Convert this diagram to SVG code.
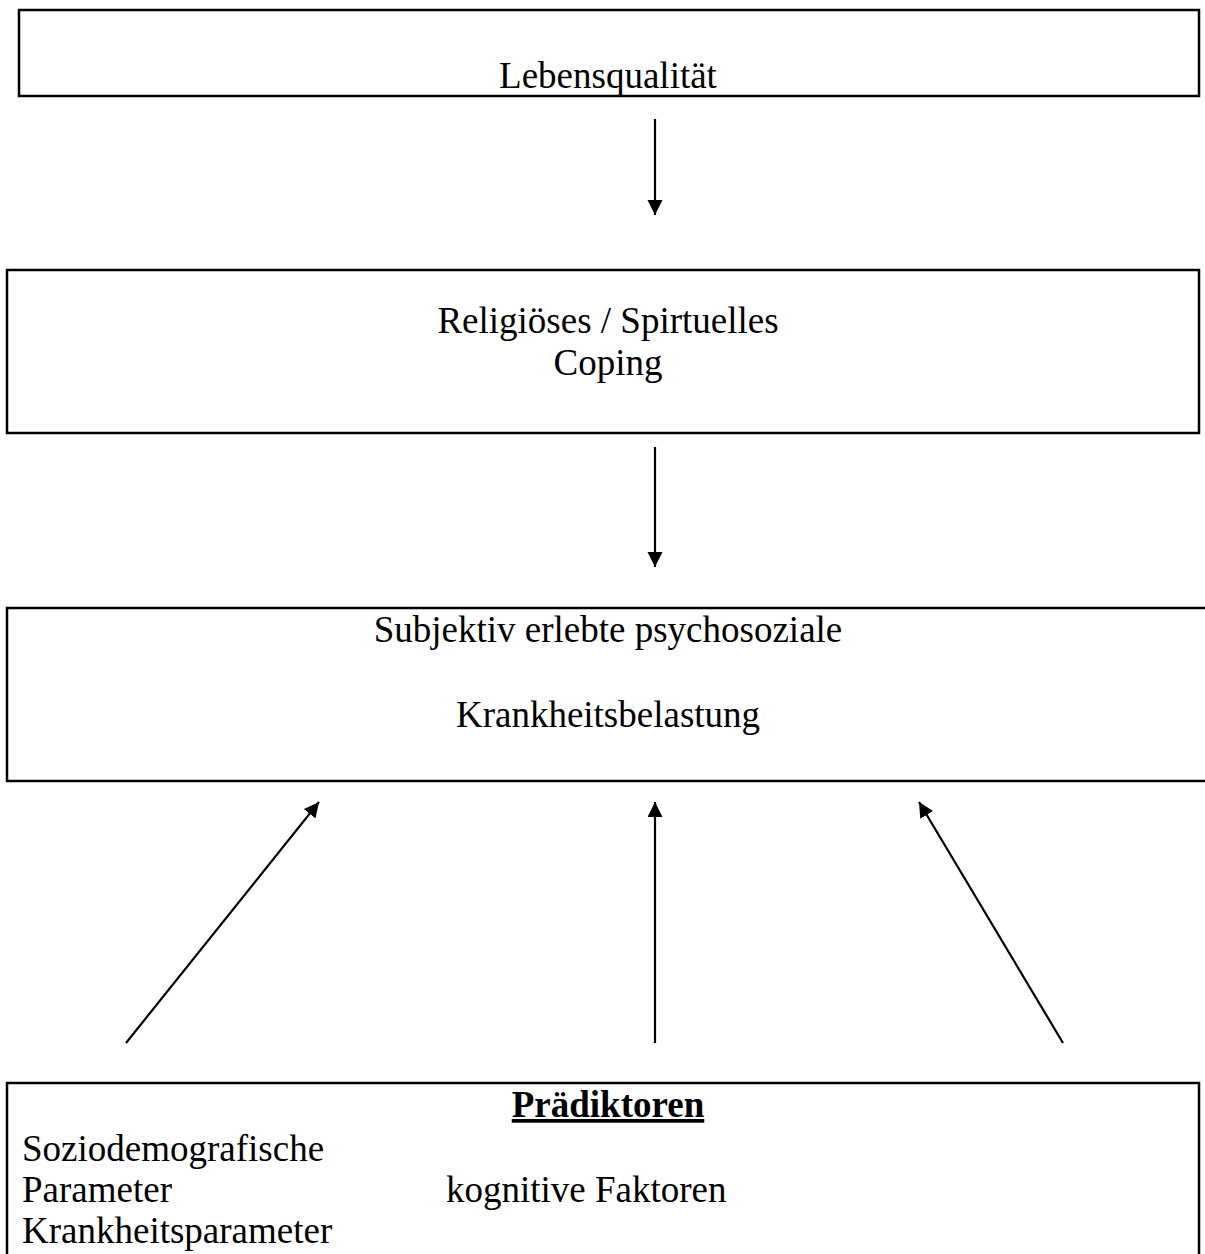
<svg xmlns="http://www.w3.org/2000/svg" width="1205" height="1254" viewBox="0 0 1205 1254">
<style>
.box{fill:#fff;stroke:#000;stroke-width:2.5}
.t{font-family:"Liberation Serif","Times New Roman",serif;font-size:37px;fill:#000}
.c{text-anchor:middle}
.con{stroke:#000;stroke-width:2.2;fill:none;marker-end:url(#ah)}
</style>
<defs>
<marker id="ah" markerUnits="userSpaceOnUse" markerWidth="16" markerHeight="16" refX="15" refY="7.5" orient="auto">
<path d="M0,0 L15,7.5 L0,15 Z" fill="#000"/>
</marker>
</defs>
<rect width="1205" height="1254" fill="#fff"/>
<g id="lebensqualitaet">
<rect class="box" x="19" y="10" width="1180" height="86"/>
<text class="t c" x="608" y="88">Lebensqualität</text>
</g>
<g id="coping">
<rect class="box" x="7" y="270" width="1192" height="163"/>
<text class="t c" x="608" y="333">Religiöses / Spirtuelles</text>
<text class="t c" x="608" y="375">Coping</text>
</g>
<g id="belastung">
<rect class="box" x="7" y="608" width="1210" height="173"/>
<text class="t c" x="608" y="642">Subjektiv erlebte psychosoziale</text>
<text class="t c" x="608" y="727">Krankheitsbelastung</text>
</g>
<g id="praediktoren">
<rect class="box" x="7" y="1083" width="1192" height="200"/>
<text class="t c" x="608" y="1117" font-weight="bold" text-decoration="underline">Prädiktoren</text>
<text class="t" x="22" y="1161">Soziodemografische</text>
<text class="t" x="22" y="1202">Parameter</text>
<text class="t" x="446" y="1202">kognitive Faktoren</text>
<text class="t" x="22" y="1243">Krankheitsparameter</text>
</g>
<g id="connectors">
<line class="con" x1="655" y1="119" x2="655" y2="215"/>
<line class="con" x1="655" y1="447" x2="655" y2="567"/>
<line class="con" x1="126" y1="1043" x2="319" y2="802"/>
<line class="con" x1="655" y1="1043" x2="655" y2="802"/>
<line class="con" x1="1063" y1="1043" x2="919" y2="802"/>
</g>
</svg>
